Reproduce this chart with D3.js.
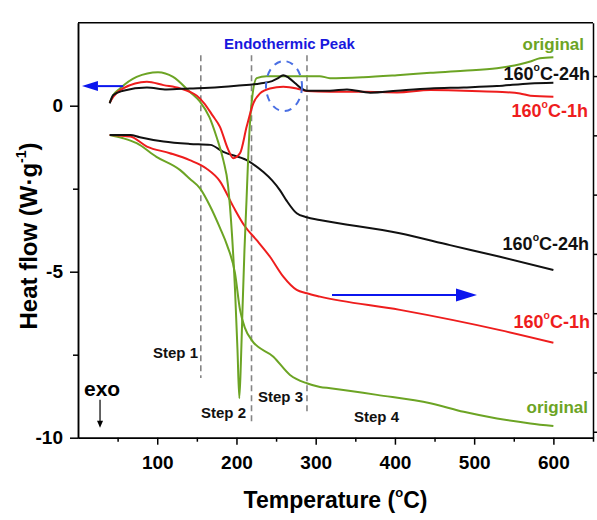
<!DOCTYPE html>
<html>
<head>
<meta charset="utf-8">
<script src="https://cdn.jsdelivr.net/npm/d3@7"></script>
<style>
body { margin: 0; background: #fff; }
svg text { font-family: Arial, "Liberation Sans", sans-serif; font-weight: bold; }
.axis path, .axis line { stroke: #000; stroke-width: 1.5; }
.axis text { font-size: 19px; fill: #000; }
.curve { fill: none; stroke-width: 2; }
.step-line { stroke: #858585; stroke-width: 1.6; stroke-dasharray: 6,4; }
</style>
</head>
<body>
<svg width="597" height="520"></svg>
<script>
// tick values
var temp_ticks = [100, 200, 300, 400, 500, 600];
var temp_minor = [50, 150, 250, 350, 450, 550, 650];
var heat_ticks = [-10, -5, 0];
var heat_minor = [-7.5, -2.5];
var right_ticks = [0, 1, 2, 3, 4, 5, 6];

// DSC curves (upper group), [temperature, heat flow]
var original_dsc = [[40,0.09],[44.6,0.32],[53,0.52],[74,0.87],[101,1.01],[120,0.87],[141,0.42],[154,0.12],[166,-0.35],[175,-0.95],[183.4,-1.64],[189.3,-2.39],[194.4,-3.9],[198.2,-5.55],[201.3,-7.36],[203.6,-8.81],[205.7,-7.66],[207.6,-6.15],[210.1,-4.35],[212.7,-2.84],[215.2,-1.33],[217.7,-0.28],[220.2,0.32],[225.5,0.83],[238,0.89],[305,0.89],[318,0.83],[360,0.86],[402.6,0.92],[444.7,0.99],[486.8,1.05],[528.8,1.13],[557.9,1.25],[570.9,1.33],[583,1.43],[600,1.46]];
var h1_dsc = [[40,0.09],[44.6,0.27],[57,0.52],[87,0.72],[108,0.62],[129,0.52],[141,0.42],[150,0.3],[159,0.08],[170,-0.3],[179,-0.63],[189.7,-1.33],[196,-1.58],[204.5,-1.43],[212.9,-0.63],[221.3,0.07],[229.7,0.37],[242.3,0.52],[259.1,0.57],[276,0.52],[288.7,0.44],[318,0.42],[360,0.42],[402.6,0.40],[444.7,0.47],[486.8,0.45],[528.8,0.42],[557.9,0.37],[570.9,0.30],[600,0.27]];
var h24_dsc = [[40,0.07],[44.6,0.32],[57,0.45],[87,0.55],[112,0.49],[141,0.52],[166,0.54],[200,0.6],[229.7,0.67],[245,0.74],[252,0.82],[259,0.92],[266,0.84],[275,0.66],[282,0.52],[288.7,0.45],[318,0.45],[339.5,0.49],[369,0.39],[402.6,0.45],[444.7,0.52],[486.8,0.55],[528.8,0.59],[570.9,0.67],[600,0.69]];

// lower group (right-hand axis), read against the left scale
var original_tg = [[40,-0.88],[57,-0.98],[74,-1.13],[99,-1.54],[129,-1.94],[141,-2.2],[154,-2.49],[166.6,-3.02],[179.2,-3.68],[188.1,-4.2],[198.2,-5.05],[204.5,-6.15],[210.8,-6.7],[219.2,-7.06],[246.6,-7.56],[267.6,-8.11],[288.7,-8.36],[305.4,-8.47],[318.4,-8.51],[377.4,-8.71],[444.7,-8.96],[486.8,-9.22],[528.8,-9.42],[570.9,-9.57],[600,-9.65]];
var h1_tg = [[40,-0.88],[66,-0.93],[87,-1.23],[116,-1.43],[141,-1.64],[162,-1.89],[179,-2.27],[196,-3.04],[210.8,-3.64],[225.5,-4.05],[242.3,-4.55],[259.1,-5.15],[276,-5.55],[288.7,-5.65],[305.4,-5.75],[406.4,-6.15],[532.6,-6.76],[600,-7.14]];
var h24_tg = [[40,-0.88],[66,-0.88],[78,-0.95],[108,-1.08],[141,-1.15],[167,-1.18],[183.4,-1.39],[212.9,-1.64],[234,-2.0],[245,-2.25],[255,-2.55],[263,-2.85],[276,-3.24],[288.7,-3.36],[305,-3.44],[406,-3.84],[469.5,-4.2],[532.6,-4.55],[600,-4.95]];

var step_temps = [155, 219, 289];
var step_bottoms = [-8.2, -9.62, -9.25];

var green = "#6ca424", red = "#ee1d1d", black = "#111", blue = "#0b16ee";

var svg = d3.select("svg"),
    margin = {top: 22.7, right: 4, bottom: 82.3, left: 78},
    width = +svg.attr("width") - (margin.left + margin.right),
    height = +svg.attr("height") - (margin.top + margin.bottom);

var x = d3.scaleLinear().domain([0, 650]).range([0, width]),
    y = d3.scaleLinear().domain([-10, 2.5]).range([height, 0]),
    y_right = d3.scaleLinear().domain([-0.1, 6.9]).range([height, 0]);

var chart = svg.append("g").attr("transform", "translate(" + margin.left + "," + margin.top + ")");

// step dividers
for (var i = 0; i < step_temps.length; i++) {
    chart.append("line")
        .attr("class", "step-line")
        .attr("x1", x(step_temps[i])).attr("x2", x(step_temps[i]))
        .attr("y1", y(1.52)).attr("y2", y(step_bottoms[i]));
}

var line = d3.line()
    .x(function(d) { return x(d[0]); })
    .y(function(d) { return y(d[1]); })
    .curve(d3.curveMonotoneX);

var curves = [
    {data: original_tg, color: green}, {data: h1_tg, color: red}, {data: h24_tg, color: black},
    {data: original_dsc, color: green}, {data: h1_dsc, color: red}, {data: h24_dsc, color: black}
];
curves.forEach(function(c) {
    chart.append("path").attr("class", "curve").attr("d", line(c.data)).attr("stroke", c.color);
});

// axes
chart.append("g").attr("class", "axis")
    .attr("transform", "translate(0," + height + ")")
    .call(d3.axisBottom(x).tickValues(temp_ticks).tickSize(7).tickSizeOuter(0).tickPadding(11).tickFormat(function(d) { return d; }));
chart.append("g").attr("class", "axis")
    .attr("transform", "translate(0," + height + ")")
    .call(d3.axisBottom(x).tickValues(temp_minor).tickSize(4).tickSizeOuter(0).tickFormat(""));
chart.append("g").attr("class", "axis")
    .call(d3.axisLeft(y).tickValues(heat_ticks).tickSize(8).tickSizeOuter(0).tickPadding(7).tickFormat(function(d) { return d; }));
chart.append("g").attr("class", "axis")
    .call(d3.axisLeft(y).tickValues(heat_minor).tickSize(5).tickSizeOuter(0).tickFormat(""));
chart.append("g").attr("class", "axis")
    .attr("transform", "translate(" + width + ",0)")
    .call(d3.axisRight(y_right).tickValues(right_ticks).tickSize(4).tickSizeOuter(0).tickFormat(""));
chart.append("line")
    .attr("x1", 0).attr("x2", width).attr("y1", 0).attr("y2", 0)
    .attr("stroke", "#000").attr("stroke-width", 1.5);

// endothermic peak marker
chart.append("ellipse")
    .attr("cx", x(260)).attr("cy", y(0.59))
    .attr("rx", 18).attr("ry", 25)
    .attr("fill", "none").attr("stroke", "#4a6fe3").attr("stroke-width", 2).attr("stroke-dasharray", "7,6");
chart.append("text")
    .attr("x", x(184.3)).attr("y", y(1.71))
    .attr("fill", "#1818dd").attr("font-size", "15px")
    .text("Endothermic Peak");

// blue axis arrows
function arrow(x1, x2, yv, head, half) {
    var dir = x2 > x1 ? 1 : -1, yy = y(yv), tip = x(x2);
    chart.append("line")
        .attr("x1", x(x1)).attr("x2", tip - dir * head).attr("y1", yy).attr("y2", yy)
        .attr("stroke", blue).attr("stroke-width", 2);
    chart.append("path")
        .attr("d", "M" + tip + "," + yy + "L" + (tip - dir * head) + "," + (yy - half) + "L" + (tip - dir * head) + "," + (yy + half) + "Z")
        .attr("fill", blue);
}
arrow(57, 5, 0.59, 16, 5);
arrow(320.6, 503.6, -5.7, 21, 6.5);

// exo arrow
chart.append("text").attr("x", x(7.6)).attr("y", y(-8.74)).attr("font-size", "21px").text("exo");
chart.append("line")
    .attr("x1", x(27.8)).attr("x2", x(27.8)).attr("y1", y(-8.86)).attr("y2", y(-9.55))
    .attr("stroke", "#000").attr("stroke-width", 1.2);
chart.append("path")
    .attr("d", "M" + x(27.8) + "," + y(-9.7) + "l-3,-7l6,0Z")
    .attr("fill", "#000");

// step labels
var step_labels = [["Step 1", 94.7, -7.6], ["Step 2", 155.2, -9.41], ["Step 3", 227.2, -8.92], ["Step 4", 348.3, -9.53]];
step_labels.forEach(function(s) {
    chart.append("text").attr("x", x(s[1])).attr("y", y(s[2])).attr("font-size", "15px").attr("fill", "#111").text(s[0]);
});

// curve labels
function deg_label(t, xv, yv, color, size, tail) {
    var txt = chart.append("text")
        .attr("x", x(xv)).attr("y", y(yv))
        .attr("text-anchor", "end").attr("fill", color).attr("font-size", size + "px");
    txt.append("tspan").text("160");
    txt.append("tspan").attr("font-size", (size * 0.58) + "px").attr("dy", -size * 0.48).text("o");
    txt.append("tspan").attr("dy", size * 0.48).text("C-" + tail);
}
chart.append("text").attr("x", x(638.6)).attr("y", y(1.68)).attr("text-anchor", "end")
    .attr("fill", green).attr("font-size", "17px").text("original");
deg_label(chart, 646.2, 0.77, black, 18, "24h");
deg_label(chart, 643.7, -0.34, red, 18, "1h");
deg_label(chart, 645, -4.35, black, 18, "24h");
deg_label(chart, 646.2, -6.7, red, 18, "1h");
chart.append("text").attr("x", x(643.7)).attr("y", y(-9.26)).attr("text-anchor", "end")
    .attr("fill", green).attr("font-size", "17px").text("original");

// axis titles
var xt = svg.append("text")
    .attr("x", margin.left + width / 2).attr("y", 508)
    .attr("text-anchor", "middle").attr("font-size", "23px");
xt.append("tspan").text("Temperature (");
xt.append("tspan").attr("font-size", "13px").attr("dy", -11).text("o");
xt.append("tspan").attr("dy", 11).text("C)");

var yt = svg.append("text")
    .attr("transform", "translate(37," + 236 + ") rotate(-90)")
    .attr("text-anchor", "middle").attr("font-size", "24px");
yt.append("tspan").text("Heat flow (W\u00b7g");
yt.append("tspan").attr("font-size", "14px").attr("dy", -11).text("-1");
yt.append("tspan").attr("dy", 11).text(")");
</script>
</body>
</html>
